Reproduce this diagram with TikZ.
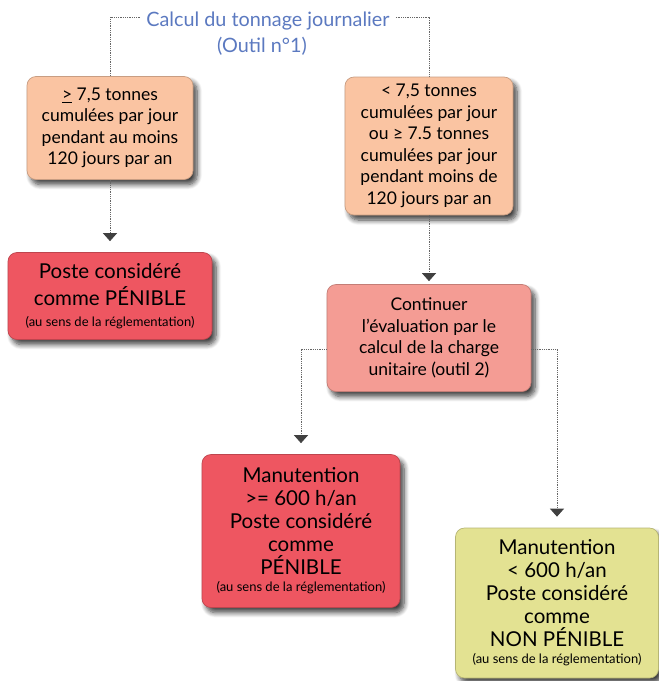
\documentclass[tikz,border=0pt]{standalone}
\usepackage{fontspec}
\setmainfont{Lato}
\usetikzlibrary{positioning,shadows,shadows.blur,arrows.meta}

\definecolor{peach}{RGB}{250,196,162}
\definecolor{redbox}{RGB}{238,86,97}
\definecolor{salmon}{RGB}{244,156,148}
\definecolor{olive}{RGB}{227,226,146}
\definecolor{titleblue}{RGB}{91,121,192}

\newcommand{\boxfont}{\fontsize{17.5}{21.5}\selectfont}
\newcommand{\bigfont}{\fontsize{20.5}{27}\selectfont}
\newcommand{\midfont}{\fontsize{20.5}{23}\selectfont}
\newcommand{\smallfont}{\fontsize{13}{15}\selectfont}

\tikzset{
  box/.style={draw=#1!80!black, fill=#1, rounded corners=9pt, align=center,
    line width=0.7pt, inner sep=4pt,
    blur shadow={shadow xshift=4pt, shadow yshift=-5pt, shadow blur steps=8,
      shadow blur radius=5pt, shadow opacity=75}},
  link/.style={densely dotted, black!60, line width=0.8pt,
    -{Triangle[width=14pt,length=8pt,fill=black!75,color=black!75]}, shorten >=11pt},
  plain/.style={densely dotted, black!60, line width=0.8pt},
}

\begin{document}
\begin{tikzpicture}[x=1pt, y=-1pt]
\useasboundingbox (0,0) rectangle (659,681);

% titre
\node[titleblue, font=\fontsize{19.8}{23}\selectfont, inner sep=2pt] (titre) at (268,21) {Calcul du tonnage journalier};
\node[titleblue, font=\fontsize{19.8}{23}\selectfont, inner sep=2pt] (outil) at (262,46) {(Outil n°1)};

% boites
\node[box=peach, minimum width=166pt, minimum height=103pt, font=\boxfont] (plus) at (110,128)
  {\underline{>} 7,5 tonnes\\cumulées par jour\\pendant au moins\\120 jours par an};
\node[box=peach, minimum width=168pt, minimum height=138pt, font=\boxfont] (moins) at (429,146)
  {< 7,5 tonnes\\cumulées par jour\\ou ≥ 7.5 tonnes\\cumulées par jour\\pendant moins de\\120 jours par an};
\node[box=redbox, minimum width=204pt, minimum height=87pt, font=\bigfont] (penible) at (110,296)
  {Poste considéré\\comme PÉNIBLE\\[-6pt]{\smallfont (au sens de la réglementation)}};
\node[box=salmon, minimum width=204pt, minimum height=107pt, font=\boxfont] (continuer) at (429,338)
  {Continuer\\l’évaluation par le\\calcul de la charge\\unitaire (outil 2)};
\node[box=redbox, minimum width=198pt, minimum height=153pt, font=\midfont] (plus600) at (301,531)
  {Manutention\\>= 600 h/an\\Poste considéré\\comme\\PÉNIBLE\\[-6pt]{\smallfont (au sens de la réglementation)}};
\node[box=olive, minimum width=203pt, minimum height=150pt, font=\midfont] (moins600) at (557,603)
  {Manutention\\< 600 h/an\\Poste considéré\\comme\\NON PÉNIBLE\\[-6pt]{\smallfont (au sens de la réglementation)}};

% liens
\draw[plain] ([xshift=-4pt,yshift=4pt]titre.west) -| (plus.north);
\draw[plain] ([xshift=4pt,yshift=4pt]titre.east) -| (moins.north);
\draw[link] (plus.south) -- (penible.north);
\draw[link, shorten >=3pt] (moins.south) -- (continuer.north);
\draw[link] ([yshift=-11pt]continuer.west) -| (plus600.north);
\draw[link] ([yshift=-11pt]continuer.east) -| (moins600.north);
\end{tikzpicture}
\end{document}
